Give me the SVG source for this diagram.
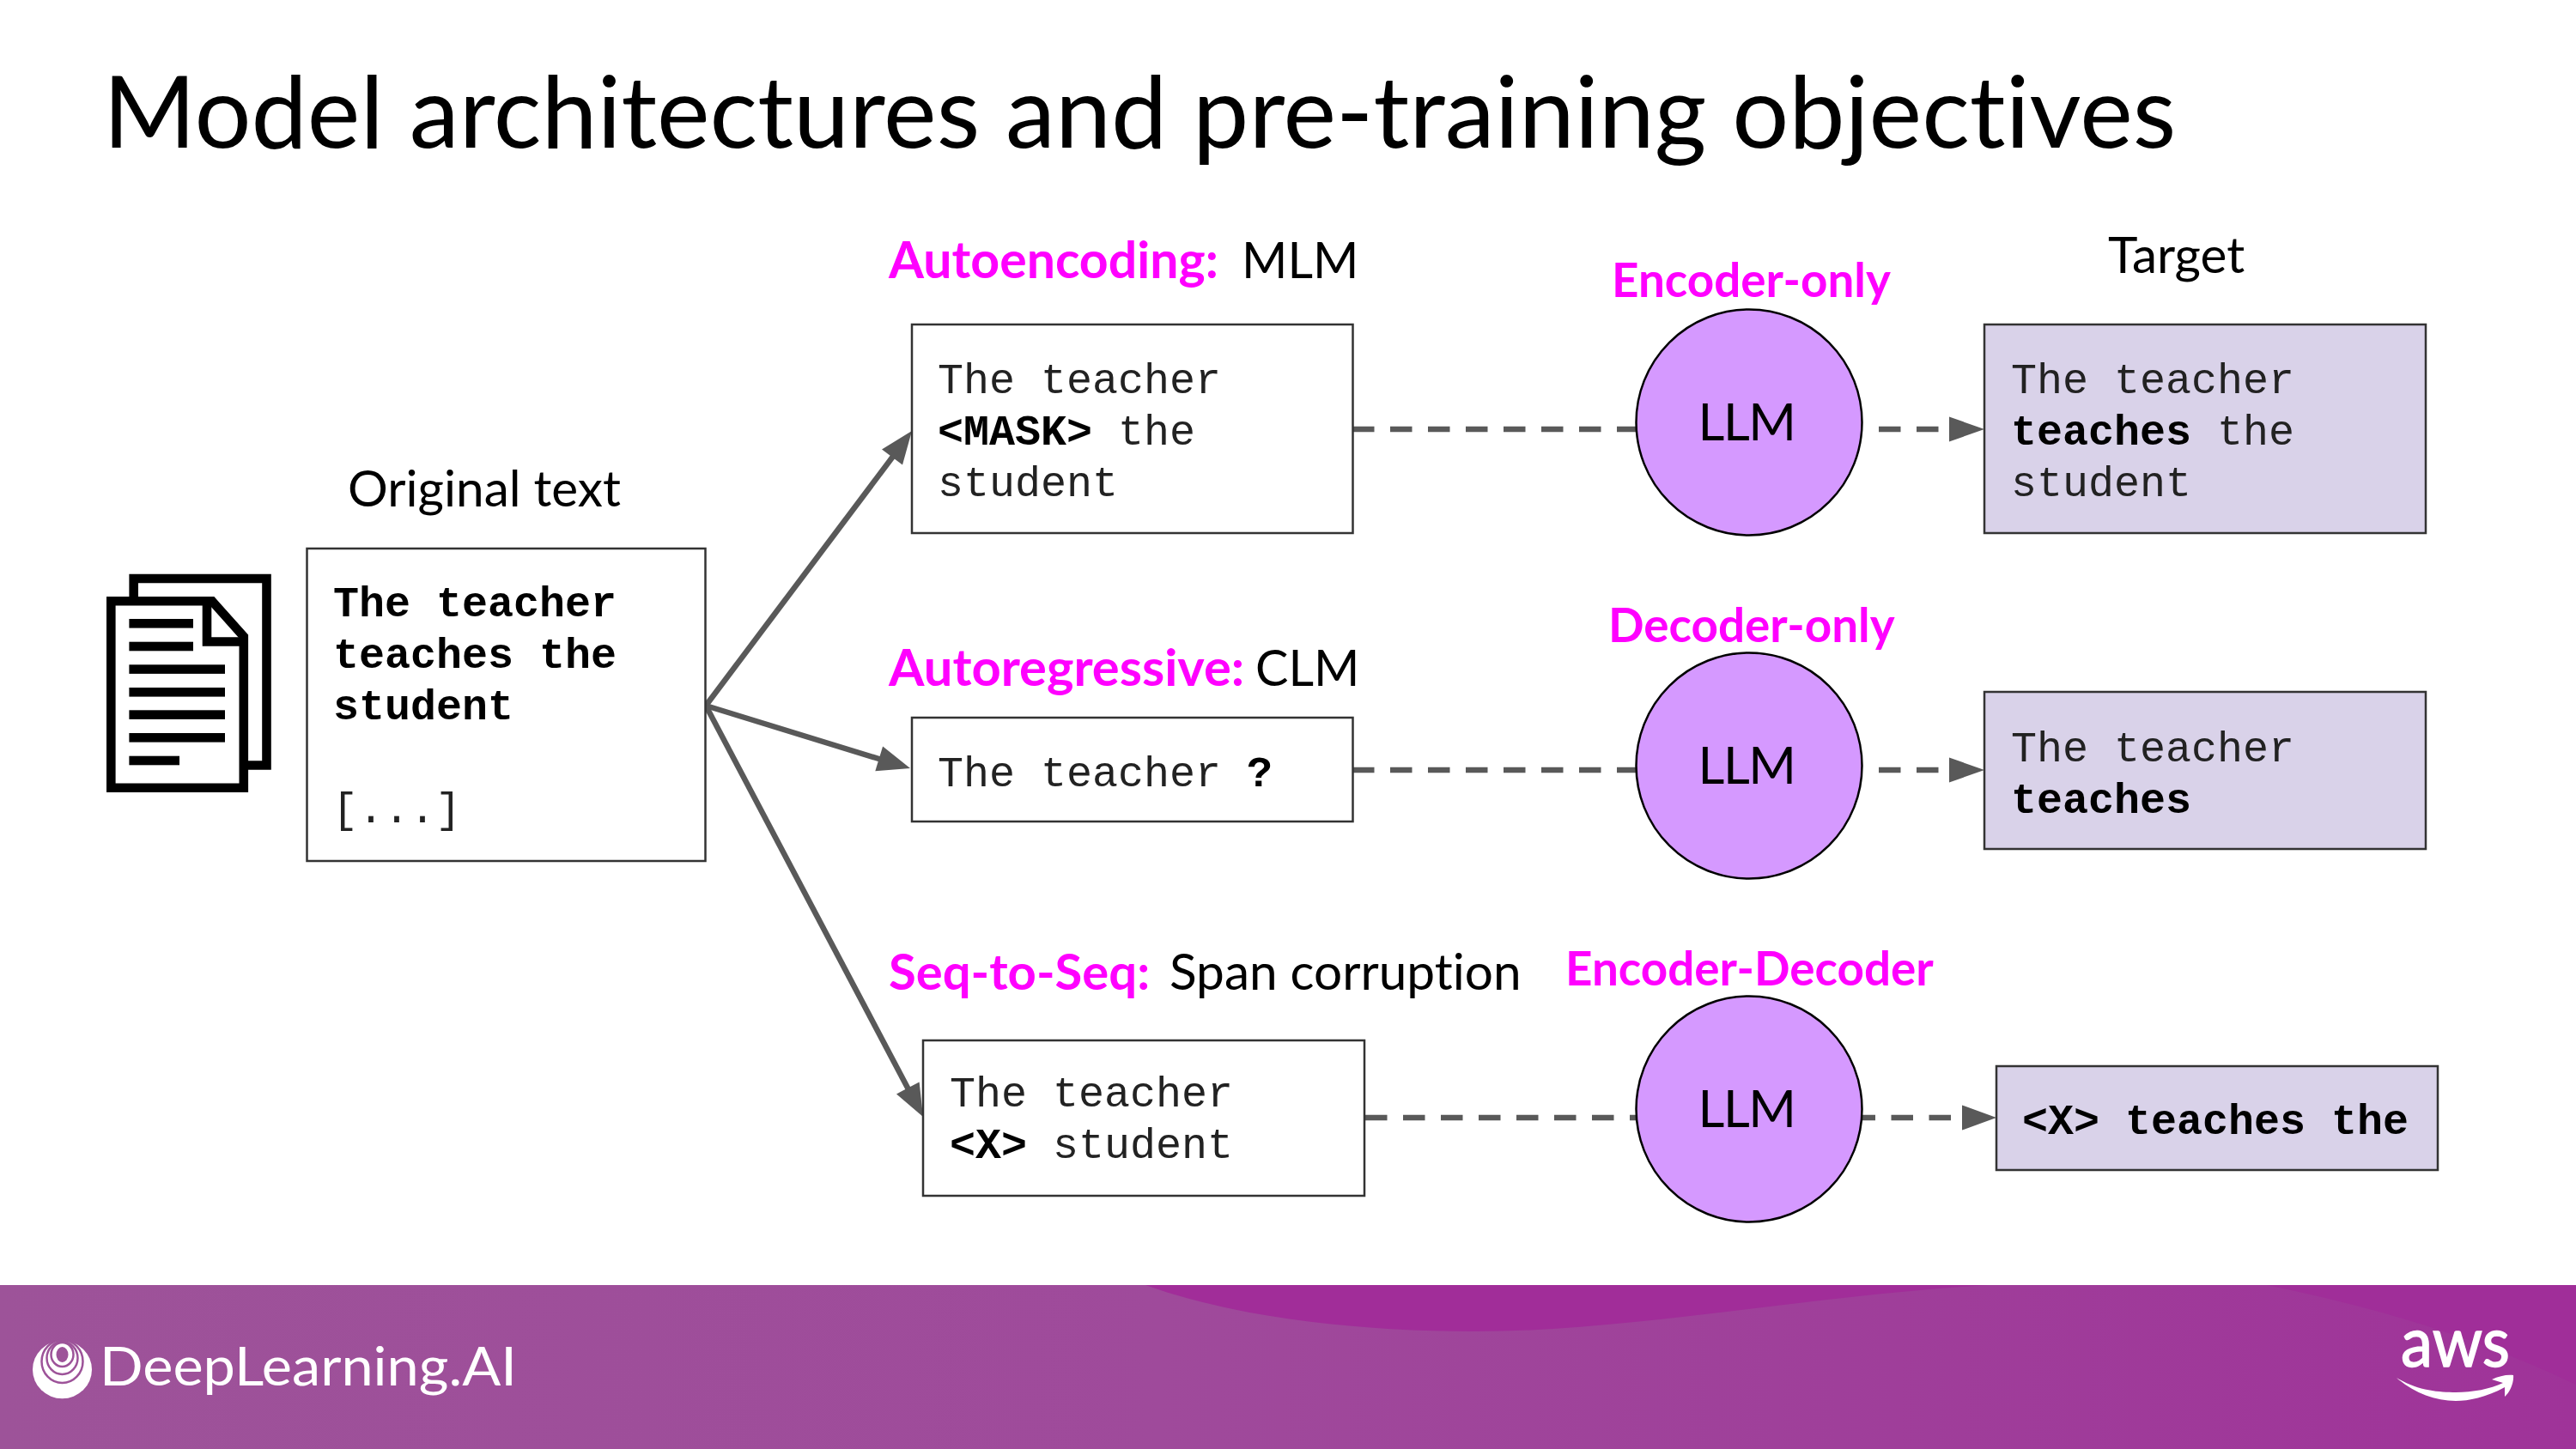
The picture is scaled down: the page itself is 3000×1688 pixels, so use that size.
<svg xmlns="http://www.w3.org/2000/svg" width="3000" height="1688" viewBox="0 0 3000 1688">
<style>
text{font-variant-ligatures:none}
.t{font-family:"Lato","Liberation Sans",sans-serif;fill:#000}
.h{font-family:"Lato","Liberation Sans",sans-serif;fill:#ff00ff;font-weight:700;font-size:54.800px}
.hl{font-size:59px}
.l{font-size:58.500px}
.m{font-family:"Liberation Mono",monospace;font-size:50px;fill:#222}
.b{font-weight:700;fill:#000}
.box{fill:#fff;stroke:#333;stroke-width:2.500}
.tg{fill:#d9d2e9;stroke:#333;stroke-width:2.500}
.c{fill:#d599ff;stroke:#000;stroke-width:2.500}
.llm{font-family:"Lato",sans-serif;font-size:60px;text-anchor:middle;letter-spacing:-1.500px}
.d{stroke:#595959;stroke-width:6.500;fill:none;stroke-dasharray:25.500 18.500}
.s{stroke:#595959;stroke-width:6.500;fill:none}
.a{fill:#595959}
.ic{fill:none;stroke:#000;stroke-width:10.600}
</style>
<defs>
<linearGradient id="g" x1="0" x2="1" y1="0" y2="0"><stop offset="0" stop-color="#9d5399"/><stop offset="0.45" stop-color="#9f4a9b"/><stop offset="1" stop-color="#9f3399"/></linearGradient>
</defs>
<rect width="3000" height="1688" fill="#fff"/>
<text id="title" class="t" x="120" y="172" font-size="116.600">Model architectures and pre-training objectives</text>
<g id="connectors">
<path class="s" d="M822 822L1042 529"/><path class="a" d="M1062 502L1051 541.400L1027 523.400Z"/>
<path class="s" d="M822 822L1030 886"/><path class="a" d="M1060 895L1019.300 898.200L1028.100 869.600Z"/>
<path class="s" d="M822 822L1059 1271"/><path class="a" d="M1075 1301L1044 1274.400L1070.600 1260.400Z"/>
<path class="d" d="M1575 500H1905"/><path class="d" d="M2188 500H2272"/><path class="a" d="M2311 500L2270 485.500V514.500Z"/>
<path class="d" d="M1575 897H1905"/><path class="d" d="M2188 897H2272"/><path class="a" d="M2311 897L2270 882.500V911.500Z"/>
<path class="d" d="M1590 1302H1905"/><path class="d" d="M2158.500 1302H2287"/><path class="a" d="M2325 1302L2285 1287.500V1316.500Z"/>
</g>
<g id="doc-icon">
<path class="ic" d="M155.700 695V674H310.500V891.500H289"/>
<path class="ic" d="M129.300 700.300H247L283.800 741.500V917.700H129.300Z"/>
<path class="ic" d="M241 700.300V747.500H283.800"/>
<g fill="#000"><rect x="150.400" y="721" width="74.600" height="10.600"/><rect x="150.400" y="747.700" width="74.600" height="10.600"/><rect x="150.400" y="774.300" width="111.600" height="10.600"/><rect x="150.400" y="801" width="111.600" height="10.600"/><rect x="150.400" y="827.300" width="111.600" height="10.600"/><rect x="150.400" y="854" width="111.600" height="10.600"/><rect x="150.400" y="880.700" width="58.600" height="10.600"/></g>
</g>
<text id="lbl-original" class="t l" x="405" y="590">Original text</text>
<g id="original"><rect class="box" x="357.500" y="639" width="464" height="364"/>
<text class="m b" x="388" y="718">The teacher</text><text class="m b" x="388" y="778">teaches the</text><text class="m b" x="388" y="838">student</text><text class="m" x="387" y="958">[...]</text></g>
<g id="lbl-ae"><text class="h hl" x="1035" y="324">Autoencoding:</text><text class="t" font-size="57.500" x="1446" y="324">MLM</text></g>
<g id="input-1"><rect class="box" x="1062" y="378" width="513.500" height="243"/>
<text class="m" x="1092" y="458">The teacher</text><text class="m" x="1092" y="518"><tspan class="b">&lt;MASK&gt;</tspan> the</text><text class="m" x="1092" y="578">student</text></g>
<text id="lbl-enc" class="h" x="1877" y="346">Encoder-only</text>
<g id="llm-1"><circle class="c" cx="2037" cy="492" r="131.500"/><text class="llm" x="2034" y="513">LLM</text></g>
<text id="lbl-target" class="t l" x="2455" y="318">Target</text>
<g id="target-1"><rect class="tg" x="2311" y="378" width="514" height="243"/>
<text class="m" x="2342" y="458">The teacher</text><text class="m" x="2342" y="518"><tspan class="b">teaches</tspan> the</text><text class="m" x="2342" y="578">student</text></g>
<g id="lbl-ar"><text class="h" style="font-size:59.700px" x="1035" y="799">Autoregressive:</text><text class="t" font-size="57.500" x="1462" y="799">CLM</text></g>
<g id="input-2"><rect class="box" x="1062" y="836" width="513.500" height="121"/>
<text class="m" x="1092" y="916">The teacher <tspan class="b">?</tspan></text></g>
<text id="lbl-dec" class="h" x="1873" y="748">Decoder-only</text>
<g id="llm-2"><circle class="c" cx="2037" cy="892" r="131.500"/><text class="llm" x="2034" y="913">LLM</text></g>
<g id="target-2"><rect class="tg" x="2311" y="806" width="514" height="183"/>
<text class="m" x="2342" y="887">The teacher</text><text class="m b" x="2342" y="947">teaches</text></g>
<g id="lbl-s2s"><text class="h" style="font-size:58px" x="1035" y="1153">Seq-to-Seq:</text><text class="t" font-size="58.500" x="1362" y="1153">Span corruption</text></g>
<g id="input-3"><rect class="box" x="1075" y="1212" width="514" height="181"/>
<text class="m" x="1106" y="1289">The teacher</text><text class="m" x="1106" y="1349"><tspan class="b">&lt;X&gt;</tspan> student</text></g>
<text id="lbl-ed" class="h" x="1823" y="1148">Encoder-Decoder</text>
<g id="llm-3"><circle class="c" cx="2037" cy="1292" r="131.500"/><text class="llm" x="2034" y="1313">LLM</text></g>
<g id="target-3"><rect class="tg" x="2325" y="1242" width="514" height="121"/>
<text class="m b" x="2355" y="1321">&lt;X&gt; teaches the</text></g>
<g id="footer">
<rect y="1497" width="3000" height="191" fill="url(#g)"/>
<path d="M1334 1497C1440 1535 1580 1551 1718 1551C1900 1551 2100 1510 2316 1497Z" fill="#a12d99"/>
<path d="M2640 1497C2780 1525 2900 1565 3000 1613V1497Z" fill="#a02e99"/>
<ellipse cx="72.500" cy="1595.500" rx="34.500" ry="33.700" fill="#fff"/>
<g fill="none" stroke="#9d5399" stroke-width="2.500"><ellipse cx="72.500" cy="1586" rx="24" ry="25"/><ellipse cx="72.500" cy="1582" rx="18" ry="19"/><ellipse cx="72.500" cy="1578" rx="13" ry="14"/></g>
<ellipse cx="72.500" cy="1578" rx="7" ry="9" fill="#9d5399"/>
<text fill="#fff" x="116" y="1614" font-family="Lato,sans-serif" font-size="62" textLength="486" lengthAdjust="spacingAndGlyphs">DeepLearning.AI</text>
<text fill="#fff" stroke="#fff" stroke-width="1.500" x="2796" y="1592" font-family="Lato,sans-serif" font-size="82" textLength="127" lengthAdjust="spacingAndGlyphs">aws</text>
<path d="M2791 1605C2815 1620 2840 1622 2860 1622C2880 1622 2900 1618 2915 1611L2902 1607C2910 1603 2920 1601 2927 1602C2928 1610 2923 1622 2917 1627L2917 1616C2895 1628 2875 1632 2860 1632C2835 1632 2810 1622 2791 1605Z" fill="#fff"/>
</g>
</svg>
